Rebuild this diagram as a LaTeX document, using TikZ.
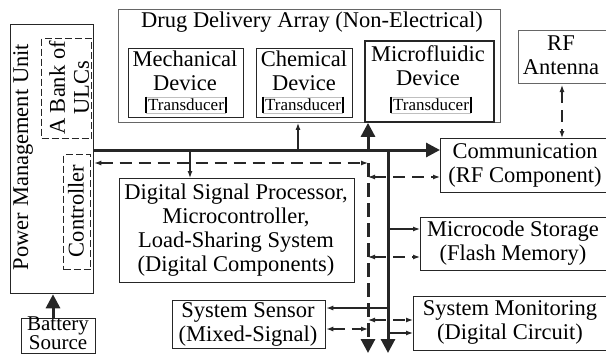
\documentclass[tikz,border=0pt]{standalone}
\usepackage{fontspec}
\setmainfont{Liberation Serif}
\usetikzlibrary{arrows.meta}
\begin{document}
\begin{tikzpicture}[x=1pt,y=-1pt,
  box/.style={draw=black!85, line width=1.3pt, inner sep=0pt, anchor=north west},
  thinbox/.style={draw=black!60, line width=0.9pt, inner sep=0pt, anchor=north west},
  dbox/.style={draw=black!85, line width=1.1pt, dash pattern=on 7pt off 3pt, inner sep=0pt, anchor=north west},
  lbl/.style={font=\fontsize{22.5}{24}\selectfont, align=center, inner sep=0pt},
  tlbl/.style={font=\fontsize{17}{18}\selectfont, draw=black!25, line width=0.6pt, inner xsep=1.5pt, inner ysep=0pt, minimum height=16pt},
  tbar/.style={line width=1.6pt, black},
  thin/.style={line width=1.2pt, black!85},
  tarr/.style={thin, -{Latex[length=7pt,width=5pt]}},
  tdarr/.style={thin, dash pattern=on 12pt off 7pt, {Latex[length=7pt,width=5pt]}-{Latex[length=7pt,width=5pt]}},
  bus/.style={line width=3pt, black!85},
  busarr/.style={bus, -{Triangle[length=14pt,width=14pt]}},
  dbusarr/.style={bus, dash pattern=on 14pt off 6pt, -{Triangle[length=14pt,width=14pt]}},
]
\useasboundingbox (0,0) rectangle (606,354);
\clip (0,0) rectangle (606,354);

% Power management unit
\node[box, minimum width=83pt, minimum height=269pt] (pmu) at (10,24) {};
\node[lbl, rotate=90] (pmut) at (23,157) {Power Management Unit};
\node[dbox, minimum width=50pt, minimum height=100pt] (bank) at (41,38) {};
\node[lbl, rotate=90] (bankt) at (69,88) {A Bank of\\ULCs};
\node[dbox, minimum width=27pt, minimum height=115pt] (ctrl) at (63,154) {};
\node[lbl, rotate=90] (ctrlt) at (76,211) {Controller};

% Battery
\node[box, minimum width=74pt, minimum height=35pt] (bat) at (21,318) {};
\node[lbl, font=\fontsize{21}{16.5}\selectfont] (batt) at (58,333.5) {Battery\\Source};

% Drug delivery array
\node[thinbox, minimum width=382pt, minimum height=113pt] (drug) at (118,9) {};
\node[lbl] (drugt) at (312,22) {Drug Delivery Array (Non-Electrical)};
\node[box, minimum width=115pt, minimum height=69pt] (mech) at (128,48) {};
\node[lbl] (mecht) at (185,71) {Mechanical\\Device};
\node[box, minimum width=96pt, minimum height=69pt] (chem) at (256,48) {};
\node[lbl] (chemt) at (304,71) {Chemical\\Device};
\node[box, line width=1.6pt, minimum width=129pt, minimum height=81pt] (micro) at (364,40) {};
\node[lbl] (microt) at (428,66) {Microfluidic\\Device};

\node[tlbl] (mtr) at (186,105) {Transducer};
\node[tlbl] (ctr) at (303,105) {Transducer};
\node[tlbl] (ftr) at (431,105) {Transducer};
\foreach \t in {mtr,ctr,ftr}{
  \draw[tbar] (\t.north west) -- (\t.south west);
  \draw[tbar] (\t.north east) -- (\t.south east);
}

% Right column
\node[thinbox, minimum width=92pt, minimum height=53pt] (rf) at (518,30) {};
\node[lbl] (rft) at (561,55) {RF\\Antenna};
\node[box, minimum width=170pt, minimum height=54pt] (comm) at (440,138) {};
\node[lbl] (commt) at (525,165) {Communication\\(RF Component)};
\node[box, minimum width=190pt, minimum height=53pt] (mcs) at (420,217) {};
\node[lbl] (mcst) at (513,243) {Microcode Storage\\(Flash Memory)};
\node[box, minimum width=197pt, minimum height=54pt] (mon) at (413,296) {};
\node[lbl] (mont) at (510,322) {System Monitoring\\(Digital Circuit)};

% DSP and sensor
\node[box, minimum width=235pt, minimum height=104pt] (dsp) at (119,178) {};
\node[lbl, font=\fontsize{22.5}{24}\selectfont] (dspt) at (236,230) {Digital Signal Processor,\\Microcontroller,\\Load-Sharing System\\(Digital Components)};
\node[box, minimum width=153pt, minimum height=48pt] (sen) at (172,300) {};
\node[lbl] (sent) at (248,324) {System Sensor\\(Mixed-Signal)};

% Bus coordinates
\coordinate (J) at (368,150);
\coordinate (K) at (388,150);
\coordinate (D) at (368,163);
\coordinate (bot) at (0,353);
\coordinate (dspTap) at (190,150);
\coordinate (drugTap) at (298,150);
\coordinate (rfTap) at (562,85);

% Thick buses
\draw[busarr] (pmu.east |- J) -- (comm.west |- J);
\draw[busarr] (J) -- (drug.south -| J);
\draw[busarr] (K) -- (K |- bot);
\draw[dbusarr] (D) -- (D |- bot);
\draw[busarr] (bat.north -| 53,0) -- (pmu.south -| 53,0);

% Thin connectors
\draw[tarr] (dspTap) -- (dsp.north -| dspTap);
\draw[tarr] (drugTap) -- (drug.south -| drugTap);
\draw[tdarr] (pmu.east |- D) -- (D);
\draw[tdarr] (rfTap) -- (comm.north -| rfTap);
\draw[tdarr] (368,177) -- (comm.west |- 0,177);
\draw[tarr] (388,229) -- (mcs.west |- 0,229);
\draw[tdarr] (368,257) -- (mcs.west |- 0,257);
\draw[tdarr] (368,320) -- (mon.west |- 0,320);
\draw[tarr] (388,333) -- (mon.west |- 0,333);
\draw[tarr] (388,308) -- (sen.east |- 0,308);
\draw[tdarr] (sen.east |- 0,329) -- (368,329);
\end{tikzpicture}
\end{document}
